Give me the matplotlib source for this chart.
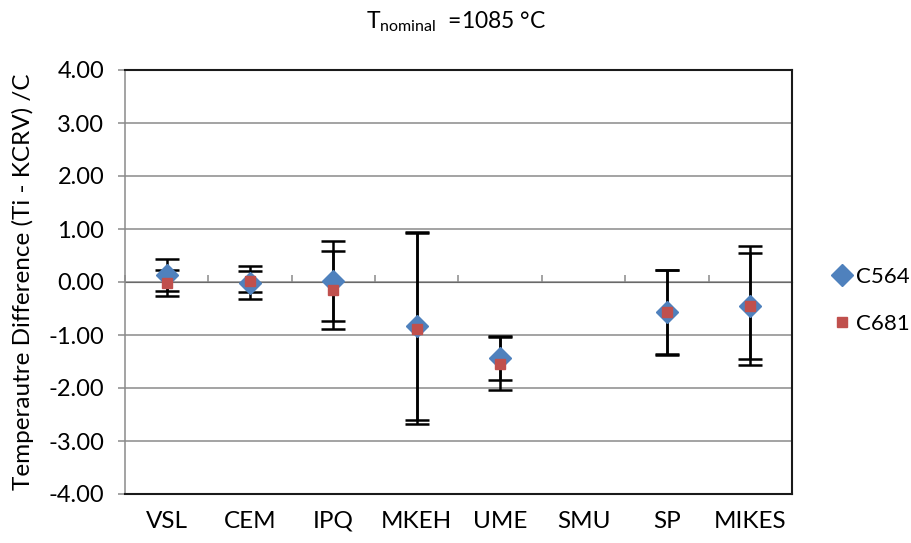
import numpy as np
import matplotlib
matplotlib.use("Agg")
import matplotlib.pyplot as plt

plt.rcParams['font.family'] = ['Lato', 'DejaVu Sans']
plt.rcParams['axes.unicode_minus'] = False
plt.rcParams['mathtext.fontset'] = 'custom'
plt.rcParams['mathtext.rm'] = 'Lato'

categories = ["VSL", "CEM", "IPQ", "MKEH", "UME", "SMU", "SP", "MIKES"]
c564 = [0.13, -0.01, 0.02, -0.83, -1.43, np.nan, -0.56, -0.45]
u564 = [0.30, 0.32, 0.75, 1.77, 0.42, np.nan, 0.79, 1.12]
c681 = [-0.02, 0.01, -0.15, -0.88, -1.54, np.nan, -0.57, -0.46]
u681 = [0.25, 0.20, 0.73, 1.80, 0.50, np.nan, 0.80, 1.00]
yticks = [-4, -3, -2, -1, 0, 1, 2, 3, 4]

W, H = 912, 543
fig = plt.figure(figsize=(W / 100, H / 100), dpi=100)
ax = fig.add_axes([125 / W, 49 / H, 667 / W, 424 / H])

x = np.arange(len(categories))
grid_c = '#8a8a8a'
blue = '#4F81BD'
red = '#C0504D'

ax.set_ylim(-4, 4)
ax.set_xlim(-0.5, len(categories) - 0.5)
ax.set_yticks(yticks)
ax.set_yticklabels([f"{v:.2f}" for v in yticks])
ax.yaxis.grid(True, color=grid_c, linewidth=1.1, zorder=0)
ax.set_axisbelow(True)

# error bars
for vals, errs in ((c564, u564), (c681, u681)):
    ax.errorbar(x, vals, yerr=errs, fmt='none', ecolor='black', elinewidth=1.8,
                capsize=8.5, capthick=1.8, zorder=2)

# markers
l1, = ax.plot(x, c564, linestyle='none', marker='D', markersize=11.5,
              color=blue, markeredgecolor=blue, zorder=3, label='C564')
l2, = ax.plot(x, c681, linestyle='none', marker='s', markersize=7.5,
              color=red, markeredgecolor=red, zorder=4, label='C681')

# category labels at bottom
ax.set_xticks(x)
ax.set_xticklabels(categories, fontsize=17.5)
ax.tick_params(axis='x', length=0, pad=12)

# y ticks
ax.tick_params(axis='y', direction='out', length=5, width=1.1, color=grid_c,
               labelsize=17, pad=10)

for s in ['top', 'right', 'bottom']:
    ax.spines[s].set_color('#1a1a1a')
    ax.spines[s].set_linewidth(1.5)
ax.spines['left'].set_color(grid_c)
ax.spines['left'].set_linewidth(1.1)

# horizontal axis at y=0 with category boundary ticks
sec = ax.secondary_xaxis(0.5)
sec.set_xticks(np.arange(len(categories) + 1) - 0.5)
sec.set_xticklabels([])
sec.tick_params(axis='x', direction='out', length=5, width=1.1, color=grid_c)
sec.spines['bottom'].set_color(grid_c)
sec.spines['bottom'].set_linewidth(1.1)

ax.set_ylabel("Temperautre Difference (Ti - KCRV) /C", fontsize=17.5)
ax.yaxis.set_label_coords(-0.137, 0.5)

fig.text(0.5, 1 - 22 / H, r"$\mathregular{T}_{\mathregular{nominal}}$  =1085 °C",
         ha='center', va='center', fontsize=16.5)

fig.legend(handles=[l1, l2], loc='center left',
           bbox_to_anchor=(834 / W, 1 - 300.5 / H), frameon=False,
           fontsize=16, numpoints=1, handlelength=0.75, handletextpad=0.25,
           labelspacing=1.2, borderpad=0, borderaxespad=0)

fig.savefig("out.png", dpi=100)
